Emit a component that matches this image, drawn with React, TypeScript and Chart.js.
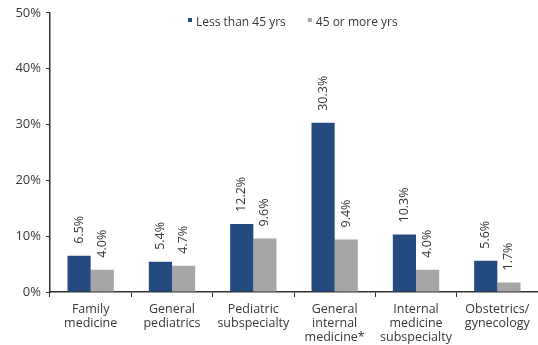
import React, { useEffect, useRef } from "react";
import { Chart, registerables } from "chart.js";

Chart.register(...registerables);

const categories: string[][] = [
  ["Family", "medicine"],
  ["General", "pediatrics"],
  ["Pediatric", "subspecialty"],
  ["General", "internal", "medicine*"],
  ["Internal", "medicine", "subspecialty"],
  ["Obstetrics/", "gynecology"],
];
const seriesNames = ["Less than 45 yrs", "45 or more yrs"];
const under45 = [6.5, 5.4, 12.2, 30.3, 10.3, 5.6];
const over45 = [4.0, 4.7, 9.6, 9.4, 4.0, 1.7];
const yTicks = [0, 10, 20, 30, 40, 50];

const NAVY = "#244b80";
const GREY = "#a6a6a6";
const TEXT = "#383838";
const FONT = "'Open Sans', 'DejaVu Sans', sans-serif";

// Rotated value labels above each bar
const valueLabels = {
  id: "valueLabels",
  afterDatasetsDraw(chart: any) {
    const ctx = chart.ctx;
    ctx.save();
    ctx.fillStyle = TEXT;
    ctx.font = `12.5px ${FONT}`;
    ctx.textAlign = "left";
    ctx.textBaseline = "middle";
    chart.data.datasets.forEach((ds: any, di: number) => {
      const meta = chart.getDatasetMeta(di);
      meta.data.forEach((bar: any, i: number) => {
        ctx.save();
        ctx.translate(bar.x, bar.y - 12);
        ctx.rotate(-Math.PI / 2);
        ctx.fillText(ds.data[i].toFixed(1) + "%", 0, 0);
        ctx.restore();
      });
    });
    ctx.restore();
  },
};

// Compact legend with small square markers
const topLegend = {
  id: "topLegend",
  afterDraw(chart: any) {
    const ctx = chart.ctx;
    ctx.save();
    ctx.font = `12px ${FONT}`;
    ctx.textBaseline = "middle";
    ctx.textAlign = "left";
    const y = 23;
    let x = 188;
    chart.data.datasets.forEach((ds: any) => {
      ctx.fillStyle = ds.backgroundColor;
      ctx.fillRect(x, y - 5, 4, 4);
      ctx.fillStyle = TEXT;
      ctx.fillText(ds.label, x + 8, y);
      x += 8 + ctx.measureText(ds.label).width + 22;
    });
    ctx.restore();
  },
};

export default function App() {
  const ref = useRef<HTMLCanvasElement>(null);

  useEffect(() => {
    document.body.style.margin = "0";
    const chart = new Chart(ref.current!, {
      type: "bar",
      data: {
        labels: categories,
        datasets: [
          { label: seriesNames[0], data: under45, backgroundColor: NAVY },
          { label: seriesNames[1], data: over45, backgroundColor: GREY },
        ],
      },
      options: {
        animation: false,
        responsive: false,
        maintainAspectRatio: false,
        layout: { padding: { top: 6, right: 0, bottom: 0, left: 0 } },
        plugins: {
          legend: { display: false },
          tooltip: { enabled: false },
        },
        datasets: {
          bar: { categoryPercentage: 0.57, barPercentage: 1.0 },
        },
        scales: {
          x: {
            offset: true,
            grid: {
              offset: true,
              drawOnChartArea: false,
              drawTicks: true,
              tickLength: 5,
              color: "#333",
            },
            border: { display: true, color: "#333", width: 1.5 },
            ticks: {
              color: TEXT,
              font: { family: FONT, size: 12.5, lineHeight: 1.12 },
              maxRotation: 0,
              padding: 5,
            },
            afterFit(scale: any) {
              scale.height = 53;
            },
          },
          y: {
            min: 0,
            max: 50,
            afterBuildTicks(scale: any) {
              scale.ticks = yTicks.map((v) => ({ value: v }));
            },
            grid: {
              drawOnChartArea: false,
              drawTicks: true,
              tickLength: 4,
              color: "#333",
            },
            border: { display: true, color: "#333", width: 1.5 },
            ticks: {
              color: TEXT,
              font: { family: FONT, size: 13 },
              padding: 5,
              callback: (v: any) => v + "%",
            },
            afterFit(scale: any) {
              scale.width = 50;
            },
          },
        },
      },
      plugins: [valueLabels, topLegend],
    });
    return () => chart.destroy();
  }, []);

  return (
    <div style={{ position: "absolute", left: 0, top: 0, width: 538, height: 345, background: "#fff" }}>
      <canvas ref={ref} width={538} height={345} />
    </div>
  );
}
